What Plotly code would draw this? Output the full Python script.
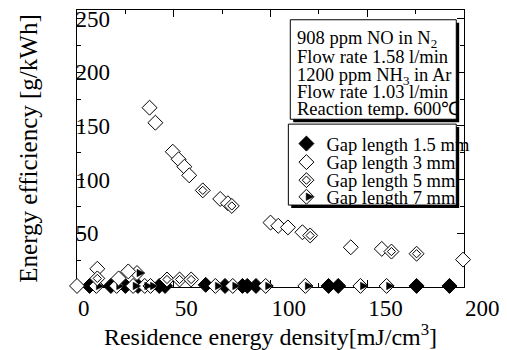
import plotly.graph_objects as go

# ---- data ----
x_ticks = [0, 50, 100, 150, 200]
y_ticks = [50, 100, 150, 200, 250]

gap15_x = [6.5, 17.5, 25, 31.5, 42.5, 45.5, 66.5, 76.5, 85.5, 88, 92.5, 130, 135, 175.5, 192.5]
gap15_y = [1, 1, 1, 1, 1, 1, 2, 1, 1, 1, 1, 1, 1, 1, 1]

gap3_x = [0, 10.5, 21.5, 26.5, 37.5, 40.5, 49.5, 52.5, 55.5, 58, 74, 78, 100, 104, 109, 116.5, 141.5, 157.5, 199.5]
gap3_y = [1, 17, 8, 14.5, 167, 153, 126, 119, 112, 104, 82, 78, 60, 57, 55.5, 51, 37, 35.5, 25.5]

gap5_x = [10.5, 46.5, 53, 59, 65, 80, 120.5, 162.5, 175.5]
gap5_y = [8, 7, 7, 7, 90, 75.5, 48, 33, 31]

gap7_x = [10, 20.5, 29, 31, 35, 38, 71.5, 80.5, 97.5, 118, 146.5, 160]
gap7_y = [1, 1, 1, 13, 1, 1, 1, 1, 1, 1, 1, 1]

names = ["Gap length 1.5 mm", "Gap length 3 mm", "Gap length 5 mm", "Gap length 7 mm"]

info_lines = [
    "908 ppm NO in N<sub>2</sub>",
    "Flow rate 1.58 l/min",
    "1200 ppm NH<sub>3</sub> in Ar",
    "Flow rate 1.03 l/min",
    "Reaction temp. 600\u2103",
]

# ---- geometry helpers (pixel -> paper) ----
W, H = 507, 350
ML, MR, MT, MB = 77, 29, 7, 59
PW, PH = W - ML - MR, H - MT - MB


def px(xp):
    return (xp - ML) / PW


def py(yp):
    return (H - MB - yp) / PH


FONT = "Liberation Serif, Times New Roman, serif"
S = 11.5
HALF = 0.65 * S
LEG_FS = 18.5

open_marker = dict(symbol="diamond", size=S, color="white", line=dict(color="black", width=1))

fig = go.Figure()

fig.add_trace(go.Scatter(
    x=gap15_x, y=gap15_y, mode="markers", name=names[0], legend="legend",
    marker=dict(symbol="diamond", size=S, color="black", line=dict(color="black", width=1)),
    cliponaxis=False))

# 7 mm: white diamond with its right half filled
fig.add_trace(go.Scatter(
    x=gap7_x, y=gap7_y, mode="markers", name=names[3], legend="legend4",
    marker=open_marker, cliponaxis=False))
fig.add_trace(go.Scatter(
    x=gap7_x, y=gap7_y, mode="markers", name=names[3], showlegend=False,
    marker=dict(symbol="arrow-down", size=HALF, color="black", angle=-90, standoff=HALF,
                line=dict(color="black", width=0.5)),
    cliponaxis=False))

fig.add_trace(go.Scatter(
    x=gap3_x, y=gap3_y, mode="markers", name=names[1], legend="legend2",
    marker=open_marker, cliponaxis=False))

# 5 mm: diamond inside a diamond
fig.add_trace(go.Scatter(
    x=gap5_x, y=gap5_y, mode="markers", name=names[2], legend="legend3",
    marker=open_marker, cliponaxis=False))
fig.add_trace(go.Scatter(
    x=gap5_x, y=gap5_y, mode="markers", name=" ", legend="legend5",
    marker=dict(symbol="diamond", size=S * 0.55, color="white", line=dict(color="black", width=1)),
    cliponaxis=False))

# legend key for the half-filled diamond (legend draws no standoff)
fig.add_trace(go.Scatter(
    x=[None], y=[None], mode="markers", name=" ", legend="legend6",
    marker=dict(symbol="arrow-down", size=HALF, color="black", angle=-90,
                line=dict(color="black", width=0.5))))

# ---- boxes (info box and legend box with drop shadow) ----
shapes = []


def box(x0, y0, x1, y1, sh=3):
    shapes.append(dict(type="rect", xref="paper", yref="paper", layer="above",
                       x0=px(x0 + sh), x1=px(x1 + sh), y0=py(y0 + sh), y1=py(y1 + sh),
                       fillcolor="black", line=dict(width=0)))
    shapes.append(dict(type="rect", xref="paper", yref="paper", layer="above",
                       x0=px(x0), x1=px(x1), y0=py(y0), y1=py(y1),
                       fillcolor="white", line=dict(color="black", width=1)))


box(298, 17, 470, 119)
box(296, 124, 470, 207)

annotations = []
line_y = [37, 55, 75, 91, 108]
for t, yy in zip(info_lines, line_y):
    annotations.append(dict(text=t, xref="paper", yref="paper", x=px(303), y=py(yy),
                            xanchor="left", yanchor="middle", showarrow=False,
                            font=dict(family=FONT, size=LEG_FS, color="black")))

# ---- legends: one per row so rows can sit tight ----
row_y = [143.5, 162.5, 181, 198]
item_h = 1.3 * LEG_FS + 3
off = item_h / 2 + 5
LEG_X = 294
legend_rows = {"legend": (0, 0), "legend2": (1, 0), "legend3": (2, 0), "legend4": (3, 0),
               "legend5": (2, 0), "legend6": (3, HALF)}
legend_layout = {}
for key, (r, dx) in legend_rows.items():
    legend_layout[key] = dict(
        x=px(LEG_X + dx), y=py(row_y[r] - off), xanchor="left", yanchor="top",
        bgcolor="rgba(0,0,0,0)", borderwidth=0, visible=True,
        font=dict(family=FONT, size=LEG_FS, color="black"))

axis_common = dict(
    showline=True, linecolor="black", linewidth=1, mirror="ticks",
    ticks="inside", ticklen=7, tickcolor="black", tickwidth=1,
    showgrid=False, zeroline=False, layer="below traces",
    ticklabeloverflow="allow",
    tickfont=dict(family=FONT, size=23, color="black"),
    minor=dict(dtick=25, ticks="inside", ticklen=4, tickcolor="black", tickwidth=1, showgrid=False),
)

fig.update_layout(
    width=W, height=H, autosize=False,
    margin=dict(l=ML, r=MR, t=MT, b=MB),
    paper_bgcolor="white", plot_bgcolor="white",
    font=dict(family=FONT, color="black"),
    showlegend=True,
    xaxis=dict(range=[0, 200], tickvals=x_ticks, ticklabelposition="outside right",
               title=dict(text="Residence energy density[mJ/cm<sup>3</sup>]",
                          font=dict(family=FONT, size=24), standoff=6),
               **axis_common),
    yaxis=dict(range=[0, 258], tickvals=y_ticks, ticklabelposition="inside",
               ticklabelstandoff=-7,
               title=dict(text="Energy efficiency [g/kWh]",
                          font=dict(family=FONT, size=25), standoff=30),
               **axis_common),
    shapes=shapes,
    annotations=annotations,
    **legend_layout,
)

fig.write_html("out.html")
